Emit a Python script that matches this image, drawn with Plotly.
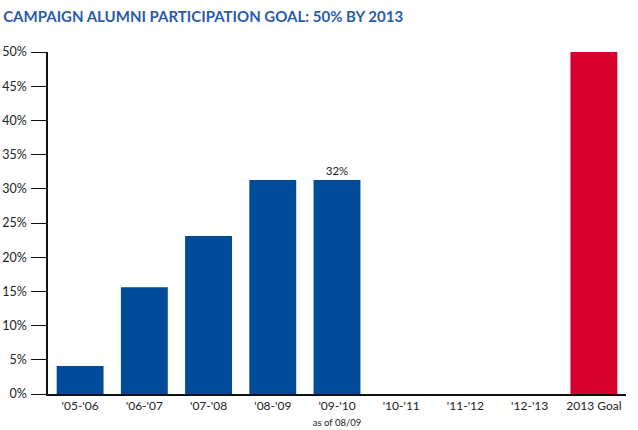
import plotly.graph_objects as go

categories = ["'05-'06", "'06-'07", "'07-'08", "'08-'09", "'09-'10", "'10-'11", "'11-'12", "'12-'13", "2013 Goal"]
tick_labels = ["'05-'06", "'06-'07", "'07-'08", "'08-'09",
               "'09-'10<br><span style='font-size:9.5px'>as of 08/09</span>",
               "'10-'11", "'11-'12", "'12-'13", "2013 Goal"]
values = [4.1, 15.6, 23.1, 31.3, 31.3, None, None, None, 50]
bar_labels = ["", "", "", "", "32%", "", "", "", ""]
colors = ["#024B98"] * 8 + ["#D7002F"]

fig = go.Figure()
fig.add_trace(go.Bar(
    x=categories, y=values, marker_color=colors, marker_line_width=0,
    text=bar_labels, textposition="outside", cliponaxis=False,
    textfont=dict(size=11.5, color="#222222", family="Lato"),
    hoverinfo="skip",
))

fig.update_layout(
    width=638, height=430,
    margin=dict(l=47.5, r=12, t=52, b=36, autoexpand=False),
    paper_bgcolor="white", plot_bgcolor="white",
    showlegend=False, bargap=0.27,
    title=dict(text="<b>CAMPAIGN ALUMNI PARTICIPATION GOAL: 50% BY 2013</b>",
               x=0.005, xanchor="left", y=0.962, yanchor="middle",
               font=dict(size=15, color="#2A5BA8", family="Lato")),
    font=dict(family="Lato", size=12, color="#222222"),
)
fig.update_xaxes(
    tickmode="array", tickvals=categories, ticktext=tick_labels,
    showline=True, linecolor="#111111", linewidth=1.5,
    ticks="", showgrid=False, tickfont=dict(size=12, color="#222222"),
    fixedrange=True, automargin=False,
)
fig.update_yaxes(
    range=[0, 50], tickvals=[0, 5, 10, 15, 20, 25, 30, 35, 40, 45, 50],
    ticktext=["0%", "5%", "10%", "15%", "20%", "25%", "30%", "35%", "40%", "45%", "50%"],
    showline=True, linecolor="#111111", linewidth=1.5,
    ticks="outside", ticklen=15, tickwidth=1.2, tickcolor="#111111",
    showgrid=False, zeroline=False, tickfont=dict(size=12.5, color="#222222"),
    ticklabelstandoff=2, fixedrange=True, automargin=False,
)

fig.write_html("out.html")
